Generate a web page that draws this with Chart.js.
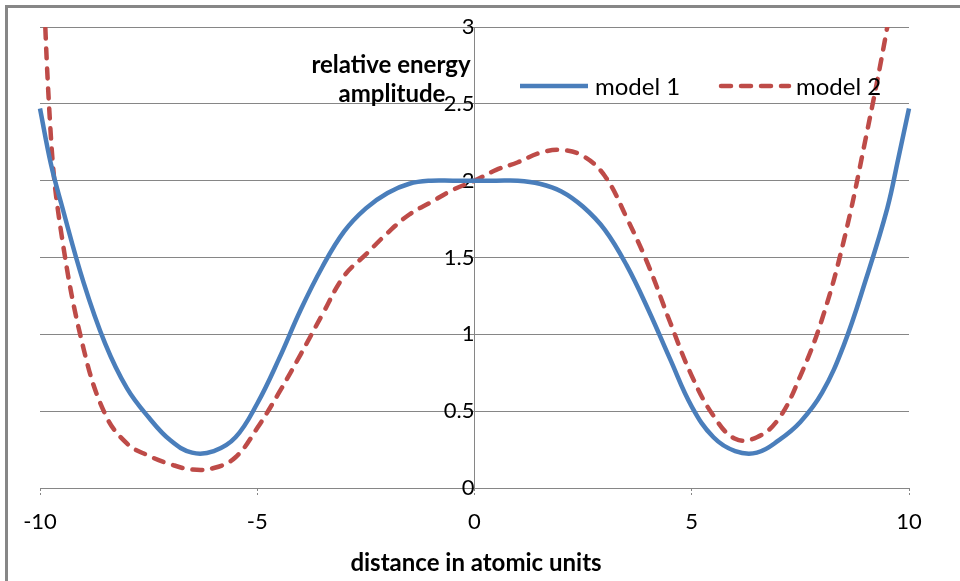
<!DOCTYPE html>
<html>
<head>
<meta charset="utf-8">
<script src="https://cdn.jsdelivr.net/npm/chart.js@4"></script>
<style>
  html, body { margin: 0; padding: 0; background: #fff; }
  #wrap { position: relative; width: 960px; height: 581px; }
</style>
</head>
<body>
<div id="wrap"><canvas id="c"></canvas></div>
<script>
/* Two double-well energy curves, Excel-2007 look: y axis crossing at x = 0,
   legend and y title sitting inside the plot. */

const xs = [-10, -9.75, -9.5, -9, -8.5, -8, -7.5, -7, -6.5, -6, -5.5, -5, -4.5, -4, -3.5, -3,
  -2.5, -2, -1.5, -1, -0.5, 0, 0.5, 1, 1.5, 2, 2.5, 3, 3.5, 4, 4.5, 5, 5.5, 6, 6.5, 7, 7.5,
  8, 8.5, 9, 9.5, 9.75, 10];
const model1 = [2.47, 2.11, 1.84, 1.34, 0.94, 0.65, 0.46, 0.31, 0.23, 0.24, 0.33, 0.55, 0.84,
  1.16, 1.44, 1.67, 1.82, 1.92, 1.98, 2.0, 2.0, 2.0, 2.0, 2.0, 1.98, 1.93, 1.83, 1.68, 1.45,
  1.16, 0.84, 0.53, 0.33, 0.24, 0.23, 0.31, 0.43, 0.62, 0.93, 1.35, 1.82, 2.14, 2.47];
const model2 = [3.9, 2.29, 1.64, 0.91, 0.48, 0.29, 0.21, 0.155, 0.12, 0.13, 0.2, 0.39, 0.62,
  0.87, 1.13, 1.38, 1.52, 1.66, 1.78, 1.86, 1.94, 2.0, 2.07, 2.12, 2.18, 2.2, 2.16, 2.03, 1.76,
  1.45, 1.08, 0.73, 0.47, 0.32, 0.33, 0.45, 0.73, 1.1, 1.61, 2.27, 3.0, 3.45, 4.0];
const seriesNames = ['model 1', 'model 2'];
const xTitle = 'distance in atomic units';
const yTitle = ['relative energy', 'amplitude'];

const blue = '#4a7ebb';
const red = '#be4b48';
const axisGray = '#868686';
const FONT = 'Lato, "Liberation Sans", sans-serif';
Chart.defaults.font.family = FONT;
Chart.defaults.color = '#000';

// frame, y title, x title and the legend are drawn by hand
const extras = {
  id: 'extras',
  beforeDraw(chart) {
    const c = chart.ctx;
    c.save();
    c.fillStyle = '#fff';
    c.fillRect(0, 0, chart.width, chart.height);
    c.fillStyle = '#878787';
    c.fillRect(5, 5, chart.width - 5, 3);
    c.fillRect(5, 5, 3, chart.height - 5);
    c.restore();
  },
  afterDraw(chart) {
    const c = chart.ctx;
    const ds = chart.data.datasets;
    c.save();
    c.fillStyle = '#000';
    c.textAlign = 'center';
    c.textBaseline = 'middle';
    c.font = 'bold 24px ' + FONT;
    c.fillText(yTitle[0], 391, 65);
    c.fillText(yTitle[1], 392, 94);
    c.fillText(xTitle, 476, 563);

    const items = [{ x: 518, ds: ds[0] }, { x: 719, ds: ds[1] }];
    c.font = '24px ' + FONT;
    c.textAlign = 'left';
    items.forEach(it => {
      c.beginPath();
      c.strokeStyle = it.ds.borderColor;
      c.lineWidth = it.ds.borderWidth;
      c.lineCap = it.ds.borderCapStyle || 'butt';
      c.setLineDash(it.ds.borderDash || []);
      c.moveTo(it.x + 2, 86);
      c.lineTo(it.x + 70, 86);
      c.stroke();
      c.setLineDash([]);
      c.fillText(it.ds.label, it.x + 77, 87);
    });
    c.restore();
  }
};

new Chart(document.getElementById('c'), {
  type: 'line',
  data: {
    datasets: [
      { label: seriesNames[0], data: xs.map((x, i) => ({ x, y: model1[i] })),
        borderColor: blue, borderWidth: 4.5, pointRadius: 0, tension: 0.4,
        clip: { left: 3, right: 3, top: 0, bottom: 3 } },
      { label: seriesNames[1], data: xs.map((x, i) => ({ x, y: model2[i] })),
        borderColor: red, borderWidth: 4.5, pointRadius: 0, borderDash: [10, 10],
        borderCapStyle: 'round', tension: 0.4,
        clip: { left: 3, right: 3, top: 0, bottom: 3 } },
    ],
  },
  options: {
    responsive: true, maintainAspectRatio: false, animation: false,
    layout: { padding: { left: 40, right: 51, top: 27, bottom: 0 } },
    plugins: { legend: { display: false }, tooltip: { enabled: false } },
    scales: {
      x: {
        type: 'linear', min: -10, max: 10,
        afterFit: s => { s.height = 93; },
        ticks: { stepSize: 5, padding: 13, font: { size: 22 }, color: '#000' },
        grid: { drawOnChartArea: false, color: axisGray, tickLength: 8, tickBorderDash: [2, 2] },
        border: { color: axisGray, dash: [3, 2] },
      },
      y: {
        type: 'linear', min: 0, max: 3, position: { x: 0 },
        // the big label padding must not push the plot down
        afterFit: s => { s.paddingTop = 12; s.paddingBottom = 12; },
        ticks: { stepSize: 0.5, padding: 26, font: { size: 22 }, color: '#000',
          callback: v => String(v) },
        grid: { drawTicks: false, color: ctx => (ctx.tick && ctx.tick.value === 0 ? 'rgba(0,0,0,0)' : axisGray) },
        border: { color: axisGray },
      },
    },
  },
  plugins: [extras],
});
</script>
</body>
</html>
